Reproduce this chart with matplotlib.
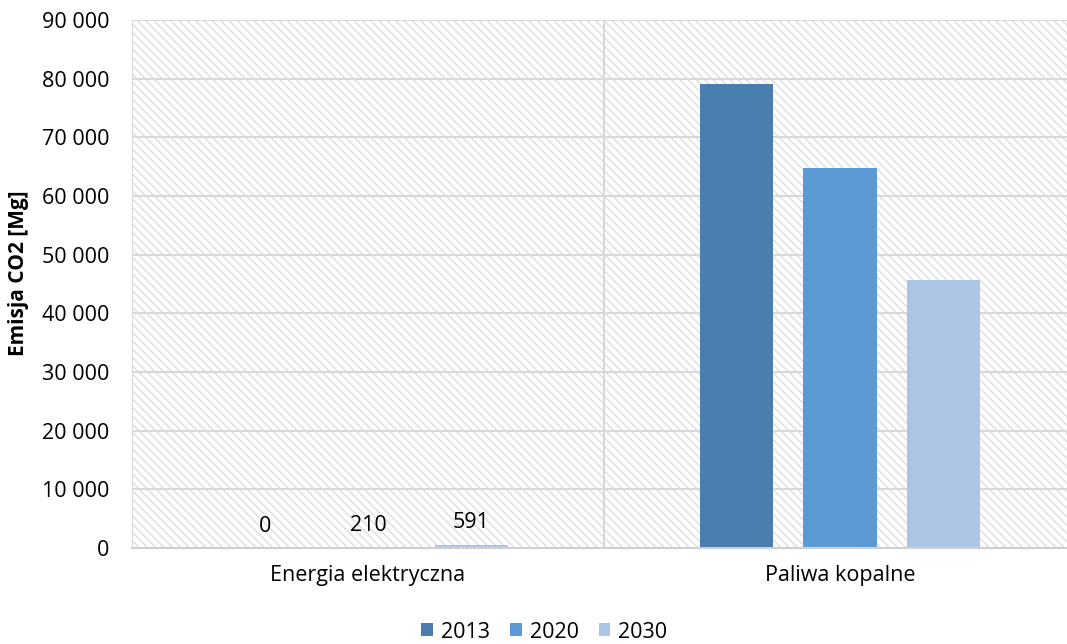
import matplotlib.pyplot as plt
from matplotlib.patches import Rectangle
from matplotlib.ticker import FuncFormatter
import numpy as np

categories = ["Energia elektryczna", "Paliwa kopalne"]
years = ["2013", "2020", "2030"]
values_2013 = [0, 79100]
values_2020 = [210, 64800]
values_2030 = [591, 45700]
colors = ["#4A7EAE", "#5B9BD5", "#ADC5E4"]

plt.rcParams['font.family'] = ['Open Sans', 'DejaVu Sans']
plt.rcParams['hatch.linewidth'] = 1.0

fig = plt.figure(figsize=(10.67, 6.44), dpi=100)
# plot area runs past the right edge of the image, like the original
ax = fig.add_axes([132 / 1067, 96 / 644, 935 / 1067, 528 / 644])

grid_c = "#D9D9D9"
# hatched background
ax.add_patch(Rectangle((0, 0), 1, 1, transform=ax.transAxes, facecolor="white",
                       edgecolor="#DEDEDE", hatch="\\\\\\\\", linewidth=0, zorder=0))

x = np.arange(len(categories))
width = 0.155
step = 0.219
series = [values_2013, values_2020, values_2030]
for i, (yr, vals) in enumerate(zip(years, series)):
    pos = x + (i - 1) * step
    ax.bar(pos, vals, width, color=colors[i], label=yr, zorder=3)
    # data labels only on the first category
    ax.annotate(f"{vals[0]:,}".replace(",", " "), (pos[0], vals[0]),
                xytext=(0, 8), textcoords="offset points",
                ha="center", va="bottom", fontsize=15.5, zorder=4)

ax.set_ylim(0, 90000)
ax.set_xlim(-0.5, -0.5 + 935 / 472)
ax.set_yticks(np.arange(0, 90001, 10000))
ax.yaxis.set_major_formatter(FuncFormatter(lambda v, p: f"{int(v):,}".replace(",", " ")))
ax.set_xticks(x)
ax.set_xticklabels(categories)

ax.grid(axis="y", color=grid_c, linewidth=1.5, zorder=1)
for xv in [-0.5, 0.5, 1.5]:
    ax.axvline(xv, color=grid_c, linewidth=1.5, zorder=1)

for s in ["top", "right", "left"]:
    ax.spines[s].set_visible(False)
ax.spines["bottom"].set_color("#D0D0D0")
ax.spines["bottom"].set_linewidth(1.5)
ax.spines["bottom"].set_zorder(5)

ax.tick_params(axis="both", length=0, labelsize=15.5)
ax.tick_params(axis="y", pad=16.5)
ax.tick_params(axis="x", pad=12)

ax.set_ylabel("Emisja CO2 [Mg]", fontsize=15, fontweight="bold")
ax.yaxis.set_label_coords(-0.110, 0.521)

fig.legend(loc="center", bbox_to_anchor=(0.51, 12 / 644), ncol=3, frameon=False,
           fontsize=15.5, handlelength=0.55, handleheight=0.55, handletextpad=0.37,
           columnspacing=0.93)

fig.savefig("out.png", dpi=100)
